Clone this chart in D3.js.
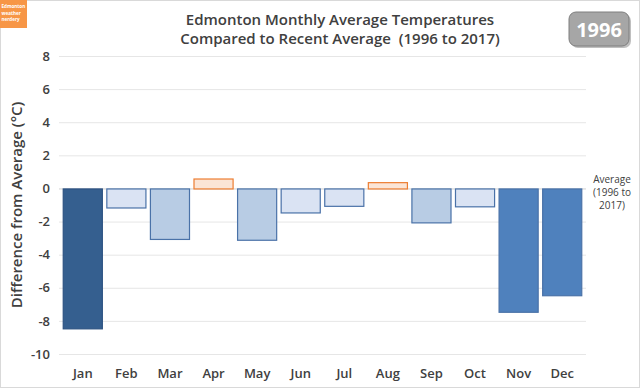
<!DOCTYPE html>
<html>
<head>
<meta charset="utf-8">
<script src="https://cdn.jsdelivr.net/npm/d3@7"></script>
<style>
  body { margin: 0; background: #fff; }
  svg { display: block; font-family: "Open Sans", "Liberation Sans", sans-serif; }
</style>
</head>
<body>
<div id="chart"></div>
<script>
// monthly departure from the 1996-2017 average, 1996
const months = ["Jan", "Feb", "Mar", "Apr", "May", "Jun", "Jul", "Aug", "Sep", "Oct", "Nov", "Dec"];
const anomalies = [-8.45, -1.15, -3.05, 0.6, -3.1, -1.45, -1.05, 0.38, -2.05, -1.08, -7.45, -6.45];
const yTicks = [8, 6, 4, 2, 0, -2, -4, -6, -8, -10];
const year = "1996";

const width = 640, height = 388;
const margin = {top: 56, right: 56, bottom: 34, left: 61};

const svg = d3.select("#chart").append("svg")
    .attr("width", width)
    .attr("height", height);

// outer frame
svg.append("rect")
    .attr("x", 0.5).attr("y", 0.5)
    .attr("width", width - 1).attr("height", height - 1)
    .attr("fill", "#fff")
    .attr("stroke", "#d9d9d9");

let x = d3.scaleBand()
    .domain(months)
    .range([margin.left, width - margin.right])
    .paddingInner(0.08)
    .paddingOuter(0.04);

let y = d3.scaleLinear()
    .domain([-10, 8])
    .range([354, 56]);

// colour by size of the departure
function fillFor(v) {
    if (v > 0) return "#fbe5d6";
    if (v > -1.5) return "#dae3f3";
    if (v > -4) return "#b8cce4";
    if (v > -8) return "#4f81bd";
    return "#355f8f";
}
function strokeFor(v) {
    if (v > 0) return "#ed7d31";
    if (v > -8) return "#4a72a8";
    return "#2c5282";
}

// gridlines
svg.append("g")
    .selectAll("line")
    .data(yTicks)
    .enter()
    .append("line")
    .attr("x1", margin.left - 2)
    .attr("x2", width - margin.right + 2)
    .attr("y1", d => y(d) + 0.5)
    .attr("y2", d => y(d) + 0.5)
    .attr("stroke", d => d === 0 ? "#d0d0d0" : "#e6e6e6")
    .attr("stroke-width", 1);

// y tick labels
svg.append("g")
    .selectAll("text")
    .data(yTicks)
    .enter()
    .append("text")
    .attr("x", 50)
    .attr("y", d => y(d))
    .attr("dy", "0.36em")
    .attr("text-anchor", "end")
    .attr("font-size", 13)
    .attr("font-weight", 600)
    .attr("fill", "#404040")
    .text(d => d);

// x labels
svg.append("g")
    .selectAll("text")
    .data(months)
    .enter()
    .append("text")
    .attr("x", d => x(d) + x.bandwidth() / 2)
    .attr("y", 378)
    .attr("text-anchor", "middle")
    .attr("font-size", 13)
    .attr("font-weight", 600)
    .attr("fill", "#404040")
    .text(d => d);

// bars
svg.append("g")
    .selectAll("rect")
    .data(anomalies)
    .enter()
    .append("rect")
    .attr("x", (d, i) => x(months[i]) + 0.5)
    .attr("y", d => Math.min(y(d), y(0)) + 0.5)
    .attr("width", x.bandwidth() - 1)
    .attr("height", d => Math.abs(y(d) - y(0)))
    .attr("fill", d => fillFor(d))
    .attr("stroke", d => strokeFor(d))
    .attr("stroke-width", 1.2);

// title
let title = svg.append("text")
    .attr("x", 340)
    .attr("text-anchor", "middle")
    .attr("font-size", 15)
    .attr("font-weight", 600)
    .attr("fill", "#404040");
title.append("tspan").attr("x", 340).attr("y", 25).text("Edmonton Monthly Average Temperatures");
title.append("tspan").attr("x", 340).attr("y", 44).text("Compared to Recent Average\u00a0\u00a0(1996 to 2017)");

// y axis title
svg.append("text")
    .attr("transform", "translate(22," + y(-1) + ") rotate(-90)")
    .attr("text-anchor", "middle")
    .attr("font-size", 15)
    .attr("font-weight", 600)
    .attr("fill", "#404040")
    .text("Difference from Average (°C)");

// average label on the right
let avg = svg.append("text")
    .attr("text-anchor", "middle")
    .attr("font-size", 10)
    .attr("fill", "#404040");
["Average", "(1996 to", "2017)"].forEach((t, i) => {
    avg.append("tspan").attr("x", 612).attr("y", y(0) - 5 + i * 13).text(t);
});

// year badge
svg.append("rect")
    .attr("x", 571).attr("y", 14)
    .attr("width", 60).attr("height", 34)
    .attr("rx", 7)
    .attr("fill", "#bfbfbf");
svg.append("rect")
    .attr("x", 569).attr("y", 12)
    .attr("width", 60).attr("height", 34)
    .attr("rx", 7)
    .attr("fill", "#a6a6a6")
    .attr("stroke", "#7f7f7f")
    .attr("stroke-width", 1);
svg.append("text")
    .attr("x", 599).attr("y", 37)
    .attr("text-anchor", "middle")
    .attr("font-size", 20)
    .attr("font-weight", 700)
    .attr("fill", "#fff")
    .text(year);

// logo
svg.append("rect")
    .attr("x", 0).attr("y", 0)
    .attr("width", 27).attr("height", 28)
    .attr("fill", "#f79646");
let logo = svg.append("text")
    .attr("font-size", 4.6)
    .attr("font-weight", 700)
    .attr("fill", "#fff");
["Edmonton", "weather", "nerdery"].forEach((t, i) => {
    logo.append("tspan").attr("x", 1.5).attr("y", 8 + i * 6.5).text(t);
});
</script>
</body>
</html>
